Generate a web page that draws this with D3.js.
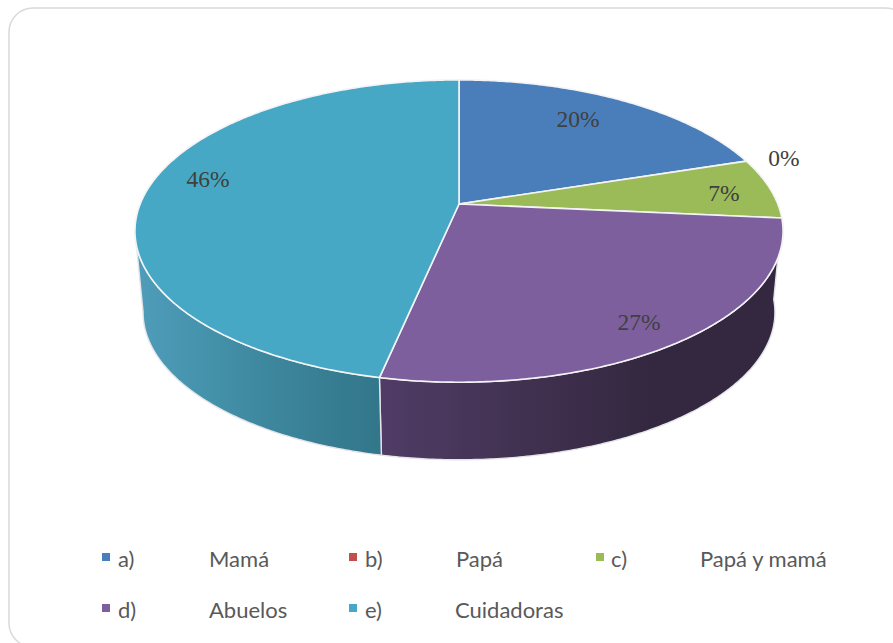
<!DOCTYPE html>
<html><head><meta charset="utf-8">
<style>html,body{margin:0;padding:0;background:#fff}svg{display:block}</style>
<script src="https://cdn.jsdelivr.net/npm/d3@7/dist/d3.min.js"></script>
</head><body><svg id="c" width="893" height="643"></svg>
<script>
const categories = ["a)","b)","c)","d)","e)"];
const names = ["Mamá","Papá","Papá y mamá","Abuelos","Cuidadoras"];
const values = [20,0,6.5,26.8,46.7];
const labels = ["20%","0%","7%","27%","46%"];
const colors = ["#4a7ebb","#c0504d","#9bbb59","#7e5f9e","#46a8c4"];
const labelPos = [[578,119],[784,158],[724,193],[639,322],[208,179]];
const legendPos = [[102,118,209,557],[349,365,456,557],[596,611,700,557],[102,118,209,608],[349,365,455,608]];
const wallStops = {3:["#503c66","#423252","#342840","#332840"],4:["#4f9dba","#4390a9","#3a8297","#32768a"]};

const cx=459, ay=204, R=318.8, B=146.3, k=0.179, depth=82, lowScale=0.975;
const svg=d3.select("#c");
svg.append("rect").attr("x",9).attr("y",8).attr("width",900).attr("height",639).attr("rx",24)
  .attr("fill","#fff").attr("stroke","#d9d9d9").attr("stroke-width",1.5);

function proj(t,low){
  const w=1+k*Math.cos(t), s=low?lowScale:1, d=low?depth:0;
  return [cx+R*s*Math.sin(t)/w, ay+d-B*s*Math.cos(t)/w];
}
const arcs=d3.pie().sort(null).value(d=>d)(values);
const defs=svg.append("defs");
const line=d3.line();
function samples(a,b){const n=Math.max(2,Math.ceil(Math.abs(b-a)/0.01));return d3.range(n+1).map(i=>a+(b-a)*i/n);}
const lim=1.444*Math.PI;

// walls
arcs.forEach((a,i)=>{
  if(!wallStops[i]) return;
  const e=Math.min(a.endAngle,lim);
  const top=samples(a.startAngle,e).map(t=>proj(t,false));
  const low=samples(e,a.startAngle).map(t=>proj(t,true));
  const xs=top.concat(low).map(p=>p[0]);
  const g=defs.append("linearGradient").attr("id","w"+i).attr("gradientUnits","userSpaceOnUse")
    .attr("x1",d3.min(xs)).attr("x2",d3.max(xs)).attr("y1",0).attr("y2",0);
  const st=wallStops[i];
  st.forEach((c,j)=>g.append("stop").attr("offset",j/(st.length-1)).attr("stop-color",c));
  svg.append("path").attr("d",line(top.concat(low))+"Z").attr("fill",`url(#w${i})`)
    .attr("stroke","#e4e4ea").attr("stroke-width",1.4).attr("stroke-linejoin","round");
});
// top faces
arcs.forEach((a,i)=>{
  if(a.endAngle-a.startAngle<1e-6) return;
  const pts=samples(a.startAngle,a.endAngle).map(t=>proj(t,false));
  svg.append("path").attr("d",line([[cx,ay]].concat(pts))+"Z").attr("fill",colors[i])
    .attr("stroke","#f4f4f6").attr("stroke-width",1.6).attr("stroke-linejoin","round");
});
// data labels
labels.forEach((l,i)=>svg.append("text").text(l).attr("x",labelPos[i][0]).attr("y",labelPos[i][1]+8)
  .attr("text-anchor","middle").attr("font-family","'Liberation Serif'").attr("font-size",23.5).attr("fill","#404040"));
// legend
categories.forEach((c,i)=>{
  const p=legendPos[i];
  svg.append("rect").attr("x",p[0]).attr("y",p[3]-4).attr("width",8).attr("height",8).attr("fill",colors[i]);
  [[c,p[1]],[names[i],p[2]]].forEach(([t,x])=>svg.append("text").text(t).attr("x",x).attr("y",p[3]+10)
    .attr("font-family","Lato").attr("font-size",22).attr("fill","#595959"));
});
</script></body></html>
